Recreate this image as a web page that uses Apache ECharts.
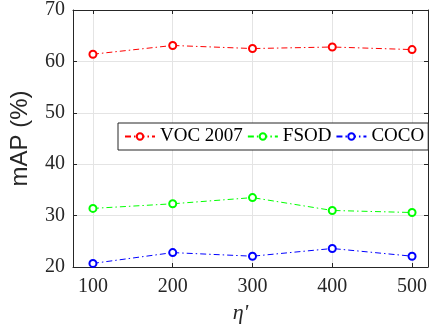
<!DOCTYPE html>
<html>
<head>
<meta charset="utf-8">
<script src="https://cdn.jsdelivr.net/npm/echarts@6/dist/echarts.min.js"></script>
<style>
  html, body { margin: 0; padding: 0; background: #fff; }
  #chart { width: 430px; height: 335px; }
</style>
</head>
<body>
<div id="chart"></div>
<script>
const etaValues = [100, 200, 300, 400, 500];
const vocValues = [61.4, 63.1, 62.5, 62.8, 62.3];
const fsodValues = [31.4, 32.3, 33.5, 31.0, 30.6];
const cocoValues = [20.7, 22.8, 22.1, 23.6, 22.1];

const axisColor = '#262626';
const gridColor = '#e4e4e4';
const serif = '"Liberation Serif", "Times New Roman", serif';
const dashDot = [6, 3, 1.5, 3];

function pairs(values) {
  return etaValues.map((x, i) => [x, values[i]]);
}

function lineSeries(name, values, color) {
  return {
    name,
    type: 'line',
    data: pairs(values),
    symbol: 'emptyCircle',
    symbolSize: 7,
    lineStyle: { color, width: 1, type: dashDot },
    itemStyle: { color, borderWidth: 1.2 },
  };
}

const chart = echarts.init(document.getElementById('chart'));
chart.setOption({
  animation: false,
  textStyle: { fontFamily: serif },
  grid: { left: 72, top: 7, right: 2, bottom: 68 },
  legend: {
    left: 118,
    top: 123,
    width: 320,
    padding: [4, 4, 4, 6],
    itemWidth: 30,
    itemHeight: 8,
    itemGap: 4,
    borderColor: axisColor,
    borderWidth: 1,
    backgroundColor: '#fff',
    textStyle: { fontFamily: serif, fontSize: 19, color: '#000', padding: [0, 0, 0, 0] },
    data: ['VOC 2007', 'FSOD', 'COCO'],
  },
  xAxis: [
    {
      type: 'value',
      min: 75,
      max: 520,
      name: "\u03b7'",
      nameLocation: 'middle',
      nameGap: 33,
      nameTextStyle: { fontFamily: serif, fontStyle: 'italic', fontSize: 22, color: axisColor, padding: [0, 20, 0, 0] },
      axisLine: { onZero: false, lineStyle: { color: axisColor, width: 1 } },
      axisTick: { inside: true, length: 4, customValues: etaValues, lineStyle: { color: axisColor } },
      axisLabel: { customValues: etaValues, fontFamily: serif, fontSize: 20, color: axisColor, margin: 10 },
      splitLine: { show: true, lineStyle: { color: gridColor, width: 1 } },
    },
    {
      type: 'value',
      position: 'top',
      min: 75,
      max: 520,
      axisLine: { onZero: false, lineStyle: { color: axisColor, width: 1 } },
      axisTick: { inside: true, length: 4, customValues: etaValues, lineStyle: { color: axisColor } },
      axisLabel: { show: false },
      splitLine: { show: false },
    },
  ],
  yAxis: [
    {
      type: 'value',
      min: 20,
      max: 70,
      interval: 10,
      name: 'mAP (%)',
      nameLocation: 'middle',
      nameGap: 41,
      nameTextStyle: { fontFamily: '"Liberation Sans", Arial, sans-serif', fontSize: 24, color: axisColor },
      axisLine: { show: true, lineStyle: { color: axisColor, width: 1 } },
      axisTick: { show: true, inside: true, length: 4, lineStyle: { color: axisColor } },
      axisLabel: { fontFamily: serif, fontSize: 20, color: axisColor, margin: 8 },
      splitLine: { show: true, lineStyle: { color: gridColor, width: 1 } },
    },
    {
      type: 'value',
      position: 'right',
      min: 20,
      max: 70,
      interval: 10,
      axisLine: { show: true, lineStyle: { color: axisColor, width: 1 } },
      axisTick: { show: true, inside: true, length: 4, lineStyle: { color: axisColor } },
      axisLabel: { show: false },
      splitLine: { show: false },
    },
  ],
  series: [
    lineSeries('VOC 2007', vocValues, '#ff0000'),
    lineSeries('FSOD', fsodValues, '#00ff00'),
    lineSeries('COCO', cocoValues, '#0000ff'),
  ],
});
</script>
</body>
</html>
